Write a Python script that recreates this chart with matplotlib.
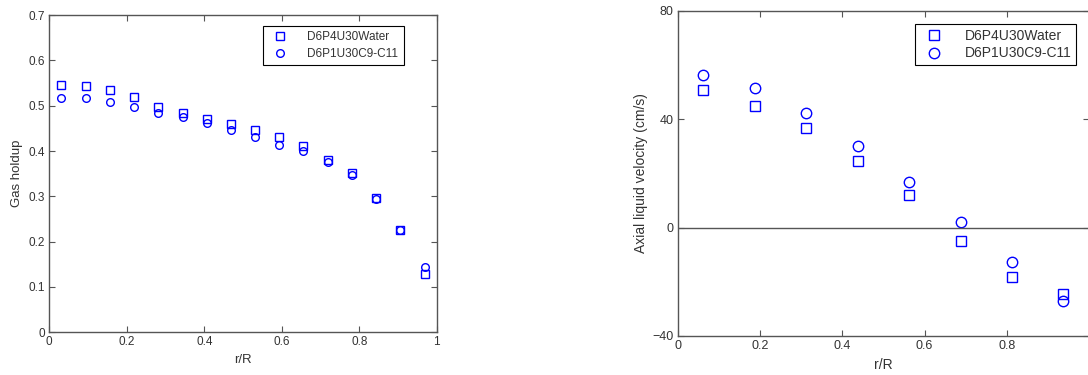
import matplotlib
matplotlib.use("Agg")
from matplotlib import pyplot as plt

plt.rcParams["font.family"] = ["Liberation Sans", "DejaVu Sans"]

# Gas holdup profile (left)
r_holdup = [0.031, 0.094, 0.156, 0.219, 0.281, 0.344, 0.406, 0.469,
            0.531, 0.594, 0.656, 0.719, 0.781, 0.844, 0.906, 0.969]
holdup_water = [0.546, 0.543, 0.535, 0.519, 0.496, 0.484, 0.471, 0.460,
                0.446, 0.431, 0.411, 0.381, 0.352, 0.296, 0.226, 0.129]
holdup_c911 = [0.518, 0.516, 0.509, 0.497, 0.483, 0.475, 0.461, 0.446,
               0.430, 0.414, 0.401, 0.375, 0.348, 0.295, 0.226, 0.145]

# Axial liquid velocity profile (right)
r_vel = [0.0625, 0.1875, 0.3125, 0.4375, 0.5625, 0.6875, 0.8125, 0.9375]
vel_water = [50.7, 45.0, 36.9, 24.6, 11.9, -4.8, -18.2, -24.6]
vel_c911 = [56.2, 51.3, 42.2, 30.2, 16.8, 2.1, -12.7, -27.2]

labels = ["D6P4U30Water", "D6P1U30C9-C11"]
blue = "#0000ff"
axis_col = "#555555"
text_col = "#333333"

fig = plt.figure(figsize=(10.88, 3.75), dpi=100)


def style(ax, fs):
    for s in ax.spines.values():
        s.set_color(axis_col)
        s.set_linewidth(1.0)
    ax.tick_params(direction="in", top=True, right=True, colors=axis_col,
                   labelcolor=text_col, labelsize=fs, length=4, pad=3)


def style_legend(leg):
    leg.get_frame().set_edgecolor("black")
    leg.get_frame().set_linewidth(0.8)
    for t in leg.get_texts():
        t.set_color(text_col)


ax1 = fig.add_axes([0.0453, 0.1139, 0.3561, 0.846])
ax1.plot(r_holdup, holdup_water, ls="none", marker="s", color=blue,
         mfc="none", mec=blue, ms=5.5, mew=1.0, label=labels[0])
ax1.plot(r_holdup, holdup_c911, ls="none", marker="o", color=blue,
         mfc="none", mec=blue, ms=5.5, mew=1.0, label=labels[1])
ax1.set_xlim(0, 1)
ax1.set_ylim(0, 0.7)
ax1.set_xticks([0, 0.2, 0.4, 0.6, 0.8, 1])
ax1.set_xticklabels(["0", "0.2", "0.4", "0.6", "0.8", "1"])
ax1.set_yticks([0, 0.1, 0.2, 0.3, 0.4, 0.5, 0.6, 0.7])
ax1.set_yticklabels(["0", "0.1", "0.2", "0.3", "0.4", "0.5", "0.6", "0.7"])
style(ax1, 8.5)
ax1.set_xlabel("r/R", fontsize=9.5, color=text_col, labelpad=4)
ax1.set_ylabel("Gas holdup", fontsize=9.5, color=text_col, labelpad=4)
leg1 = ax1.legend(loc="upper right", bbox_to_anchor=(0.93, 0.985), fontsize=8.5,
                  fancybox=False, framealpha=1, borderpad=0.45,
                  handletextpad=1.3, labelspacing=0.4)
style_legend(leg1)

ax2 = fig.add_axes([0.6229, 0.104, 0.3782, 0.8675])
ax2.plot(r_vel, vel_water, ls="none", marker="s", color=blue,
         mfc="none", mec=blue, ms=6.5, mew=1.0, label=labels[0])
ax2.plot(r_vel, vel_c911, ls="none", marker="o", color=blue,
         mfc="none", mec=blue, ms=7.5, mew=1.0, label=labels[1])
ax2.axhline(0, color=axis_col, lw=1.0)
ax2.set_xlim(0, 1)
ax2.set_ylim(-40, 80)
ax2.set_xticks([0, 0.2, 0.4, 0.6, 0.8, 1])
ax2.set_xticklabels(["0", "0.2", "0.4", "0.6", "0.8", ""])
ax2.set_yticks([-40, 0, 40, 80])
style(ax2, 9)
ax2.set_xlabel("r/R", fontsize=10, color=text_col, labelpad=4)
ax2.set_ylabel("Axial liquid velocity (cm/s)", fontsize=10, color=text_col,
               labelpad=3)
leg2 = ax2.legend(loc="upper right", bbox_to_anchor=(0.985, 0.98), fontsize=10,
                  fancybox=False, framealpha=1, borderpad=0.35,
                  handletextpad=1.2, labelspacing=0.25)
style_legend(leg2)

fig.savefig("out.png", dpi=100)
